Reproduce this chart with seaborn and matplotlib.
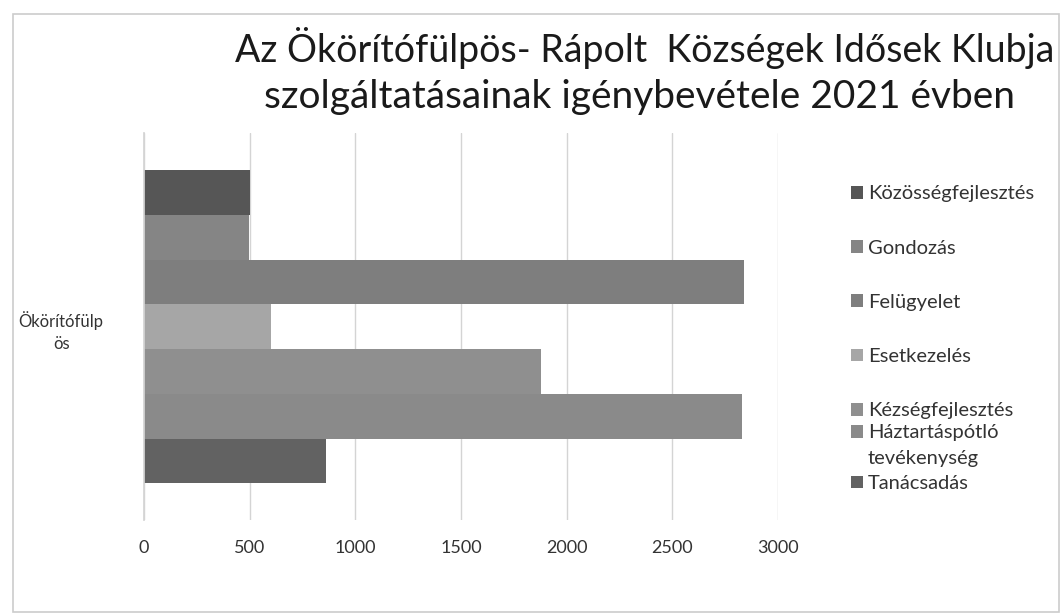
import pandas as pd
import matplotlib.pyplot as plt
import seaborn as sns
from matplotlib.patches import Patch

# data
category = "Ökörítófülpös"
services = ["Közösségfejlesztés", "Gondozás", "Felügyelet", "Esetkezelés",
            "Kézségfejlesztés", "Háztartáspótló tevékenység", "Tanácsadás"]
values = [500, 495, 2840, 600, 1880, 2830, 860]
colors = ["#565656", "#858585", "#7e7e7e", "#a6a6a6", "#8f8f8f", "#8a8a8a", "#626262"]
xticks = [0, 500, 1000, 1500, 2000, 2500, 3000]

df = pd.DataFrame({"cat": [category] * len(services), "service": services, "value": values})

sns.set_theme(style="white")
plt.rcParams['font.family'] = ['Lato', 'DejaVu Sans']

fig = plt.figure(figsize=(10.62, 6.14), dpi=100)
ax = fig.add_axes([0.1356, 0.153, 0.597, 0.630])

sns.barplot(data=df, y="cat", x="value", hue="service", hue_order=services,
            palette=colors, orient="h", width=0.81, saturation=1,
            edgecolor="none", legend=False, ax=ax)

ax.set_xlim(0, 3000)
ax.set_xticks(xticks)
ax.set_xticklabels([str(t) for t in xticks], fontsize=13, color="#333333")
ax.set_yticks([0])
ax.set_yticklabels(["Ökörítófülp\nös"], fontsize=12, color="#333333")
for t in ax.get_yticklabels():
    t.set_multialignment("center")
    t.set_linespacing(1.5)
ax.tick_params(axis="x", pad=14, length=0)
ax.tick_params(axis="y", pad=29, length=0)
ax.set_xlabel("")
ax.set_ylabel("")
ax.xaxis.grid(True, color="#d4d4d4", linewidth=1)
ax.set_axisbelow(True)
for s in ["top", "right", "bottom"]:
    ax.spines[s].set_visible(False)
ax.spines["left"].set_color("#d4d4d4")

# legend: the first five entries evenly spaced, the last entries packed tighter
handles = [Patch(facecolor=c, edgecolor="none") for c in colors]
leg_kw = dict(loc="upper left", frameon=False, fontsize=14.5, handlelength=0.6,
              handleheight=0.6, handletextpad=0.25, borderaxespad=0, borderpad=0)
fig.legend(handles[:5], services[:5], bbox_to_anchor=(0.801, 0.698),
           labelspacing=1.85, **leg_kw)
blank = Patch(facecolor="none", edgecolor="none")
fig.legend([handles[5], blank, handles[6]], ["Háztartáspótló", "tevékenység", services[6]],
           bbox_to_anchor=(0.801, 0.309), labelspacing=0.42, **leg_kw)
for leg in fig.legends:
    for t in leg.get_texts():
        t.set_color("#333333")

fig.text(0.607, 0.922, "Az Ökörítófülpös- Rápolt  Községek Idősek Klubja",
         ha="center", va="center", fontsize=27, color="#1a1a1a")
fig.text(0.602, 0.842, "szolgáltatásainak igénybevétele 2021 évben",
         ha="center", va="center", fontsize=28, color="#1a1a1a")

# chart frame
fig.patches.append(plt.Rectangle((0.012, 0.004), 0.985, 0.974, transform=fig.transFigure,
                                 fill=False, edgecolor="#cccccc", linewidth=1.2))

fig.savefig("out.png", dpi=100)
